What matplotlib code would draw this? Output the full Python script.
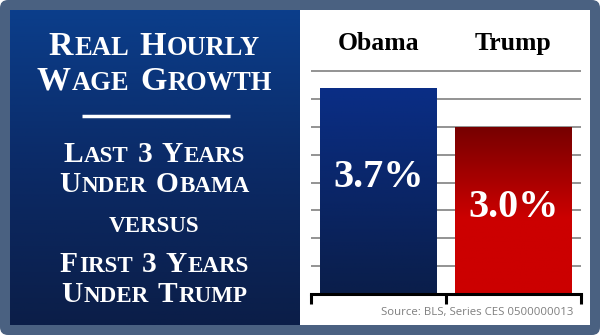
import numpy as np
import matplotlib.pyplot as plt
from matplotlib.patches import FancyBboxPatch, Rectangle
from matplotlib.colors import LinearSegmentedColormap

# data
names = ['Obama', 'Trump']
values = [3.7, 3.0]
value_labels = ['3.7%', '3.0%']
title_lines = ['Real Hourly', 'Wage Growth']
sub_lines = ['Last 3 Years', 'Under Obama', 'versus', 'First 3 Years', 'Under Trump']
source = 'Source: BLS, Series CES 0500000013'

SERIF = 'Liberation Serif'

fig = plt.figure(figsize=(6, 3.35), dpi=100)
fig.patch.set_facecolor('white')

# background layer in pixel coords (y down)
bg = fig.add_axes([0, 0, 1, 1], zorder=0)
bg.axis('off')

bg.add_patch(FancyBboxPatch((0, 0), 600, 335, boxstyle='round,pad=0,rounding_size=8',
                            fc='#4a6181', ec='none', zorder=0))
bg.add_patch(Rectangle((300, 10), 290, 315, fc='white', ec='none', zorder=1))

blue_cmap = LinearSegmentedColormap.from_list('bl', ['#0b3e8b', '#0b2a66', '#0b1e48'])
grad = np.linspace(0, 1, 256).reshape(-1, 1)
bg.imshow(grad, extent=(10, 300, 325, 10), aspect='auto', cmap=blue_cmap,
          origin='upper', zorder=2)
bg.set_xlim(0, 600)
bg.set_ylim(335, 0)

bg.plot([82, 230], [115.7, 115.7], color='white', lw=2.5, solid_capstyle='butt', zorder=3)

renderer = fig.canvas.get_renderer()


def smallcaps(x, y, s, size, ratio=0.78):
    # fake small caps: capitals at full size, lower case as smaller capitals
    pieces = []
    words = s.split(' ')
    for wi, word in enumerate(words):
        runs = []
        for ch in word:
            big = not ch.islower()
            if runs and runs[-1][1] == big:
                runs[-1][0] += ch
            else:
                runs.append([ch, big])
        for txt, big in runs:
            t = bg.text(0, y, txt.upper(), fontsize=size if big else size * ratio,
                        color='white', fontweight='bold', family=SERIF,
                        ha='left', va='baseline', zorder=4)
            w = t.get_window_extent(renderer).width
            pieces.append((t, w, 0.05 * size))
        if wi < len(words) - 1:
            pieces.append((None, 0.27 * size * 100 / 72, 0))
    total = sum(w + g for _, w, g in pieces)
    cx = x - total / 2
    for t, w, g in pieces:
        if t is not None:
            t.set_x(cx)
        cx += w + g


smallcaps(155, 55, title_lines[0], 24.5)
smallcaps(155, 90, title_lines[1], 24.5)
sub_y = [162, 192.5, 232, 272.5, 301.5]
for s, yy in zip(sub_lines, sub_y):
    smallcaps(155, yy, s, 21.2)

bg.text(573, 313, source, ha='right', va='center', fontsize=8.2,
        color='#7f7f7f', family='Open Sans', zorder=4)

# bar chart
ax = fig.add_axes([310.7 / 600, 41 / 335, 270 / 600, 224 / 335], zorder=1)
ax.patch.set_alpha(0)

cmaps = [
    LinearSegmentedColormap.from_list('ob', ['#0a2e86', '#0a2668', '#0a1e4a']),
    LinearSegmentedColormap.from_list('tr', [(0, '#760000'), (0.55, '#cc0000'), (1, '#cc0000')]),
]
bars = ax.bar(range(len(values)), values, width=0.86, color='none', zorder=2)
for b, cm in zip(bars, cmaps):
    x0, w, h = b.get_x(), b.get_width(), b.get_height()
    im = ax.imshow(grad, extent=(x0, x0 + w, 0, h), aspect='auto', cmap=cm,
                   origin='upper', zorder=2)
    im.set_clip_path(b)

ax.set_xlim(-0.5, 1.5)
ax.set_ylim(0, 4.02)
ax.set_yticks(np.arange(0.5, 4.01, 0.5))
ax.yaxis.grid(True, color='#808080', lw=1.2)
ax.set_axisbelow(True)
ax.tick_params(axis='y', length=0, labelleft=False)
for sp in ['top', 'left', 'right']:
    ax.spines[sp].set_visible(False)
ax.spines['bottom'].set_linewidth(2.2)
ax.spines['bottom'].set_color('black')
ax.set_xticks([-0.5, 0.5, 1.5])
ax.tick_params(axis='x', direction='out', length=7, width=2.2, color='black',
               labelbottom=False)

label_frac = [0.565, 0.515]
for i, (n, v, lab) in enumerate(zip(names, values, value_labels)):
    ax.text(i, 4.5, n, ha='center', va='center', fontsize=18.5, fontweight='bold',
            family=SERIF, clip_on=False)
    ax.text(i, v * label_frac[i], lab, ha='center', va='center', fontsize=29,
            fontweight='bold', family=SERIF, color='white', zorder=3)

fig.savefig('out.png', dpi=100, facecolor=fig.get_facecolor())
